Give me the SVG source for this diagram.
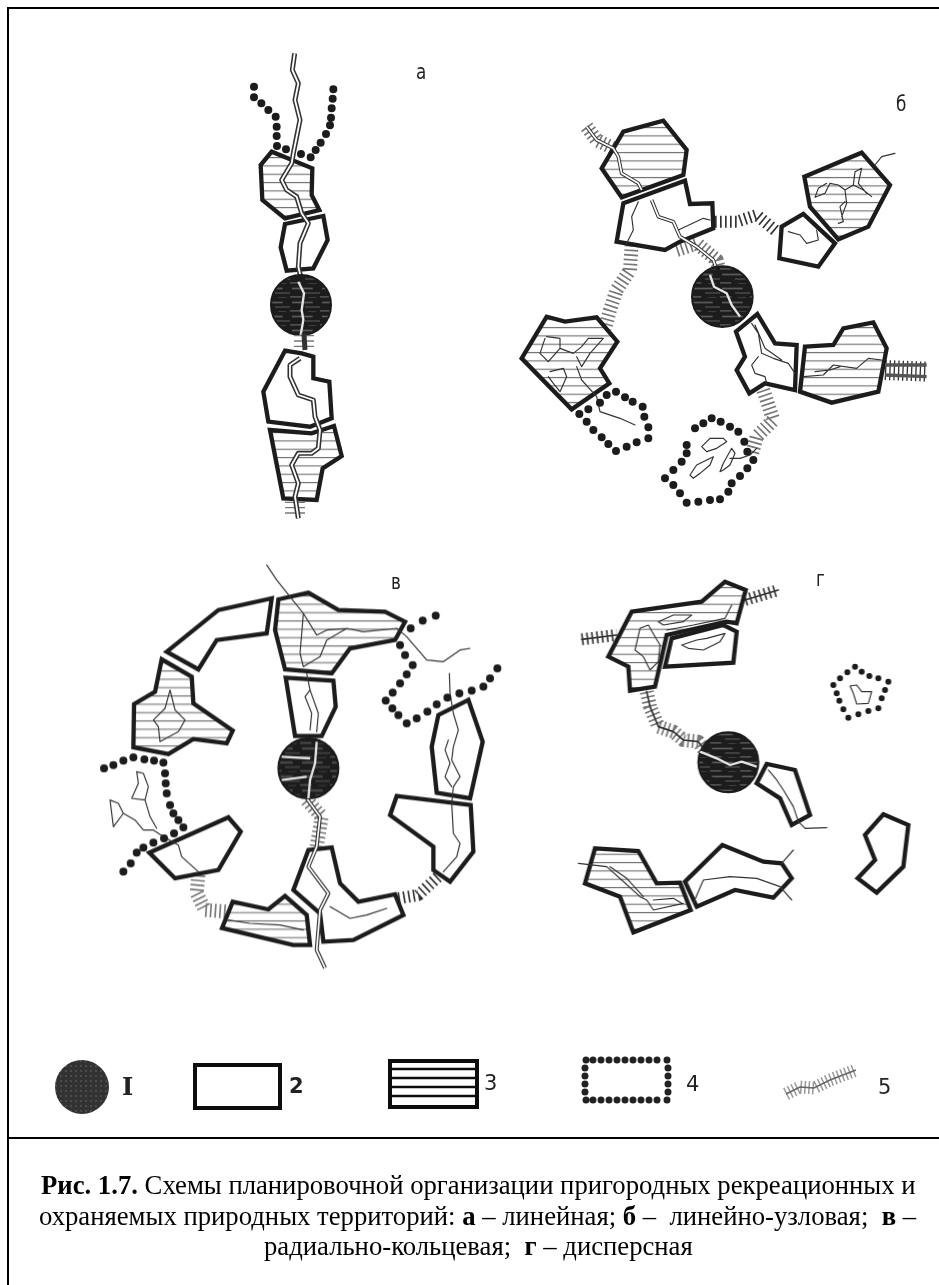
<svg xmlns="http://www.w3.org/2000/svg" width="939" height="1285" viewBox="0 0 939 1285">
<style>
.p{stroke:#1f1f1f;stroke-width:13;stroke-linejoin:miter;fill:#fff}
.h{fill:url(#hl)}
.r{fill:none;stroke:#333;stroke-width:3.5;stroke-linejoin:round;stroke-linecap:round}
.ro{fill:none;stroke:#333;stroke-width:15;stroke-linejoin:round}
.ri{fill:none;stroke:#fff;stroke-width:5.5;stroke-linejoin:round}
.ha{fill:none;stroke:#777;stroke-width:42;stroke-dasharray:5 9;stroke-linejoin:round}
.hb{fill:none;stroke:#333;stroke-width:36;stroke-dasharray:5 10;stroke-linejoin:round}
.d{fill:none;stroke:#1c1c1c;stroke-width:24;stroke-linecap:round}
.ds{fill:none;stroke:#1c1c1c;stroke-width:18;stroke-linecap:round}
.c{fill:url(#city);stroke:#1a1a1a;stroke-width:6}
.w{fill:none;stroke:#e4e4e4;stroke-width:7;stroke-linejoin:round}
.lab{font-family:"DejaVu Sans",sans-serif;font-size:21px;fill:#222}
.let{font-family:"DejaVu Sans",sans-serif;font-size:21px;fill:#222}
.cap{font-family:"Liberation Serif",serif;font-size:26.7px;fill:#000;white-space:pre}
.cap tspan{font-weight:bold}
.f{stroke:#000;stroke-width:2;fill:none}
</style>
<defs>
<pattern id="hl" width="30" height="25" patternUnits="userSpaceOnUse"><rect width="30" height="25" fill="#fff"/><rect y="11" width="30" height="3.5" fill="#777"/></pattern>
<pattern id="city" width="90" height="42" patternUnits="userSpaceOnUse"><rect width="90" height="42" fill="#1e1e1e"/><rect x="6" y="5" width="62" height="5" fill="#5a5a5a"/><rect x="45" y="19" width="45" height="4" fill="#4a4a4a"/><rect x="0" y="30" width="34" height="5" fill="#505050"/><rect x="55" y="33" width="24" height="3" fill="#3c3c3c"/></pattern>
<pattern id="leg" width="5" height="5" patternUnits="userSpaceOnUse"><rect width="5" height="5" fill="#333"/><rect width="2" height="2" fill="#4c4c4c"/></pattern>
<filter id="soft" x="-5%" y="-5%" width="110%" height="110%"><feGaussianBlur stdDeviation="0.45"/></filter>
</defs>
<rect width="939" height="1285" fill="#fff"/>
<path class="f" d="M8 1285V8H939M8 1138H939"/>

<g filter="url(#soft)">
<g id="panel-a">
 <g transform="translate(230 20) scale(.33333)">
  <path id="a-t1" class="p h" d="M125 395L92 435L97 540L165 595L268 570L245 525L247 445Z"/>
  <path id="a-t2" class="p" d="M165 612L152 682L170 752L250 745L293 660L280 588Z"/>
  <path class="d" d="M72 200h0M72 232h0M94 250h0M115 270h0M137 290h0M140 320h0M140 348h0M141 378h0M168 388h0M213 402h0M242 412h0M257 390h0M272 368h0M288 342h0M300 316h0M303 293h0M305 265h0M308 236h0M310 208h0"/>
  <path id="a-road1" class="ro" d="M194 100L187 150L205 190L195 240L210 300L190 400L185 430L155 480L170 510L200 530L215 580L235 610L210 670L205 740L212 770"/>
  <path class="ri" d="M194 100L187 150L205 190L195 240L210 300L190 400L185 430L155 480L170 510L200 530L215 580L235 610L210 670L205 740L212 770"/>
  <circle id="a-city" class="c" cx="213" cy="855" r="90"/>
  <path class="w" d="M205 785L222 820L215 870L220 900L212 945"/>
 </g>
 <g transform="translate(230 320) scale(.33333)">
  <path class="ha" style="stroke-width:60;stroke-dasharray:4 12" d="M222 45V90"/>
  <path class="ha" style="stroke-width:60;stroke-dasharray:4 12" d="M195 545V590"/>
  <path id="a-t3" class="p" d="M165 92L100 215L115 305L240 320L305 295L298 185L250 175L250 110L215 100Z"/>
  <path id="a-t4" class="p h" d="M120 330L160 535L260 540L278 445L335 408L312 318L245 340Z"/>
  <path class="ro" d="M222 40L225 90"/>
  <path class="ro" d="M210 115L180 135L180 170L205 225L250 240L255 290L270 330L265 385L245 400L205 400L185 435L205 490L195 530L205 595"/>
  <path class="ri" d="M210 115L180 135L180 170L205 225L250 240L255 290L270 330L265 385L245 400L205 400L185 435L205 490L195 530L205 595"/>
 </g>
</g>

<g id="panel-b" transform="translate(510 90) scale(.33333)">
 <path class="ha" d="M230 110L260 150L310 175"/>
 <path class="ha" d="M500 480L560 460L620 510L625 530"/>
 <path class="hb" d="M615 395L680 395L740 375L800 425"/>
 <path class="ha" d="M365 465L360 540L320 600L300 660L285 715"/>
 <path class="hb" style="stroke-width:60;stroke-dasharray:4 9" d="M1125 840L1250 845"/>
 <path class="ha" d="M760 900L790 990L740 1040L725 1095"/>
 <path id="b-t1" class="p h" d="M275 235L340 125L460 92L530 180L520 255L335 322Z"/>
 <path id="b-t2" class="p" d="M340 340L525 272L540 342L607 340L610 415L510 455L465 480L320 455Z"/>
 <path id="b-t3" class="p h" d="M883 260L1055 188L1140 285L1075 410L985 448L900 350Z"/>
 <path id="b-t4" class="p" d="M815 410L880 372L975 460L925 530L808 505Z"/>
 <path id="b-t5" class="p h" d="M35 805L110 680L165 695L260 682L322 755L270 835L298 880L185 958Z"/>
 <path id="b-t6" class="p" d="M678 725L742 672L795 760L860 765L855 900L765 880L718 910L680 840L705 800Z"/>
 <path id="b-t7" class="p h" d="M885 770L970 765L1000 715L1090 697L1130 775L1105 905L965 938L870 905Z"/>
 <path class="ro" style="stroke-width:11" d="M230 110L260 150L310 175L325 200L335 250L385 280L395 300"/>
 <path class="ri" style="stroke-width:5" d="M230 110L260 150L310 175L325 200L335 250L385 280L395 300"/>
 <path class="ro" style="stroke-width:11" d="M425 330L445 380L490 395L510 440L560 470L610 510L620 540"/>
 <path class="ri" style="stroke-width:5" d="M425 330L445 380L490 395L510 440L560 470L610 510L620 540"/>
 <path class="ro" style="stroke-width:10;stroke:#555" d="M1125 825H1250M1125 855L1250 860"/>
 <path class="r" d="M385 335L365 380L370 420L350 460M505 420L580 385L600 390M835 425L870 435L890 460L925 450L920 420M1155 190L1115 200L1095 225"/>
 <path class="r" d="M1055 235L1035 245L1030 285L1005 300L985 285L960 280L945 310L915 322L925 295L950 280M1030 285L1060 300L1085 320M1055 235L1045 280L1070 310M1005 335L990 350L1000 395L985 400M1005 300L1010 340L995 380"/>
 <path class="r" d="M725 700L745 730L755 790L790 805L835 820L855 850M735 705L765 775L815 810M745 800L725 825L735 850L765 860L770 880"/>
 <path class="r" d="M880 860L940 855L970 825L1040 835L1075 805L1115 810M915 845L960 840L990 830"/>
 <path class="r" d="M110 740L150 745L150 775L115 815L90 790L105 745M150 775L190 790L215 770L235 745L280 745L240 790L215 830L200 800M120 845L160 835L170 860L150 905L130 880L115 860M200 830L215 870L260 920L270 965L330 985L375 1005"/>
 <path class="d" d="M208 972h0M235 958h0M270 938h0M290 915h0M318 905h0M345 922h0M368 935h0M398 950h0M403 980h0M415 1012h0M415 1045h0M380 1057h0M350 1070h0M318 1083h0M295 1062h0M275 1042h0M250 1020h0M230 995h0"/>
 <path class="d" d="M465 1165h0M490 1140h0M515 1115h0M530 1090h0M530 1065h0M555 1015h0M580 1000h0M605 985h0M632 995h0M660 1010h0M685 1025h0M703 1055h0M712 1085h0M730 1110h0M712 1135h0M690 1158h0M665 1180h0M655 1205h0M630 1228h0M600 1230h0M565 1235h0M530 1238h0M510 1210h0M490 1185h0"/>
 <path class="r" d="M575 1070L600 1045L640 1045L650 1055L620 1075L590 1085ZM540 1155L560 1125L610 1100L600 1125L570 1150L550 1165ZM630 1145L640 1120L665 1075L675 1090L660 1125L640 1140ZM660 1105L690 1105L720 1095L740 1075"/>
 <circle id="b-city" class="c" cx="637" cy="620" r="91"/>
 <path class="w" d="M600 555L612 590L650 610L665 645L690 680"/>
</g>

<g id="panel-v" transform="translate(90 550) scale(.33333)">
 <path class="ha" d="M325 975L320 1030L345 1080L415 1085"/>
 <path class="ha" d="M650 750L695 800L680 890"/>
 <path class="hb" d="M925 1045L985 1035L1050 975"/>
 <path id="v-t1" class="p" d="M230 305L385 180L545 145L530 250L380 270L325 358Z"/>
 <path id="v-t2" class="p h" d="M565 148L655 128L745 180L885 185L945 215L915 270L780 295L725 370L585 358L555 240Z"/>
 <path id="v-t3" class="p" d="M587 383L730 392L737 470L695 558L615 558Z"/>
 <path id="v-t4" class="p h" d="M215 328L305 380L310 460L428 542L410 580L310 567L235 612L130 592L132 462L195 425Z"/>
 <path id="v-t5" class="p" d="M178 908L415 802L452 845L385 960L255 985Z"/>
 <path id="v-t6" class="p h" d="M428 1055L535 1078L585 1038L650 1095L660 1185L609 1185L396 1134Z"/>
 <path id="v-t7" class="p" d="M655 900L725 892L750 1000L805 1055L915 1033L940 1095L790 1170L700 1175L690 1090L610 1020Z"/>
 <path id="v-t8" class="p" d="M920 738L1142 765L1150 905L1080 995L1030 960L1030 890L900 795Z"/>
 <path id="v-t9" class="p" d="M1045 495L1135 450L1178 575L1140 745L1040 728L1025 590Z"/>
 <path class="r" d="M530 45L560 90L600 140L640 190L630 310L640 350L690 320L710 270L770 235L820 245L920 235L950 260L1010 330L1060 335L1110 300L1140 295M640 190L680 255L710 240L770 235"/>
 <path class="r" d="M650 370L660 420L645 440L665 490L660 540M660 420L685 490L680 545"/>
 <path class="r" d="M240 420L255 480L285 510L265 545L210 575L205 530L190 510L225 475Z"/>
 <path class="r" d="M1078 370L1080 430L1090 490L1105 540L1090 590L1085 630L1110 680L1090 710L1085 760L1090 850L1110 880L1100 920L1060 965M1075 570L1065 600L1080 640L1065 680L1085 710"/>
 <path class="r" d="M140 665L160 670L175 710L165 750L125 745L145 700ZM60 750L85 760L100 790L70 830L65 790ZM100 790L135 810L160 840L190 840L220 860L265 885L275 920L325 965M165 750L180 800L200 835"/>
 <path class="r" d="M415 1110L480 1120L570 1125L640 1140M720 1070L780 1105L830 1095L890 1075"/>
 <path class="d" d="M42 655h0M70 645h0M100 632h0M130 622h0M163 628h0M192 632h0M220 638h0M225 670h0M227 700h0M230 730h0M240 765h0M250 790h0M265 810h0M280 832h0M252 850h0M222 865h0M190 878h0M160 893h0M140 908h0M122 940h0M100 965h0"/>
 <path class="d" d="M1037 197h0M998 212h0M962 235h0M930 285h0M945 315h0M968 345h0M950 373h0M930 400h0M908 428h0M887 452h0M907 475h0M925 495h0M950 520h0M980 505h0M1012 485h0M1040 463h0M1072 443h0M1108 430h0M1145 422h0M1180 410h0M1200 385h0M1222 355h0"/>
 <path class="ro" style="stroke-width:12" d="M650 745L690 800L680 890L655 950L715 1030L690 1080L680 1200L705 1254"/>
 <path class="ri" style="stroke-width:5" d="M650 745L690 800L680 890L655 950L715 1030L690 1080L680 1200L705 1254"/>
 <circle id="v-city" class="c" cx="655" cy="655" r="90"/>
 <path class="w" d="M680 575L675 640L660 690L655 745M575 620L660 625M575 690L650 680"/>
</g>

<g id="panel-g" transform="translate(560 550) scale(.33333)">
 <path class="hb" d="M65 268L170 255"/>
 <path class="hb" d="M555 150L655 120"/>
 <path class="r" style="stroke-width:5" d="M65 268L170 255M555 150L655 120"/>
 <path class="ha" d="M260 425L270 470L295 530L340 545L370 570L415 575L440 610"/>
 <path id="g-t1" class="p h" d="M215 185L425 155L495 95L557 120L530 220L500 215L320 255L285 410L210 422L205 350L145 320Z"/>
 <path id="g-t2" class="p" d="M335 265L490 225L530 245L520 338L315 350Z"/>
 <path class="r" style="stroke-width:5" d="M260 425L270 470L295 530L340 545L370 570L415 575L440 610"/>
 <path class="r" d="M295 215L340 195L395 195L370 215L310 225ZM365 285L410 270L440 265L495 250L480 275L430 300L385 295ZM240 235L265 225L285 260L300 285L295 335L270 360L250 320L225 300ZM320 240L400 225L495 205L515 165"/>
 <circle id="g-city" class="c" cx="505" cy="637" r="90"/>
 <path class="w" d="M420 605L470 625L510 645L545 635L590 650"/>
 <path id="g-t3" class="p" d="M590 700L620 642L705 660L750 795L695 825L660 745Z"/>
 <path class="r" d="M625 660L650 690L670 720L700 770L715 815L735 835L800 833"/>
 <path class="ds" d="M885 350h0M905 365h0M928 378h0M955 385h0M985 395h0M975 420h0M965 445h0M955 475h0M925 483h0M895 493h0M865 503h0M850 478h0M838 452h0M830 430h0M820 405h0M840 385h0M862 367h0"/>
 <path class="r" d="M870 408L890 405L905 425L935 425L925 460L890 462L880 430Z"/>
 <path id="g-t4" class="p" d="M970 793L1045 825L1030 950L950 1028L893 985L945 930L915 855Z"/>
 <path id="g-t5" class="p h" d="M105 895L235 903L290 1000L360 998L392 1080L220 1147L180 1040L75 1000Z"/>
 <path id="g-t6" class="p" d="M375 995L487 885L610 935L665 940L695 985L640 1043L525 1020L410 1070Z"/>
 <path class="r" d="M55 940L140 950L185 990L240 1040L260 1050L280 1080L370 1060M150 950L200 985L250 1040M280 1050L340 1045L365 1060M400 1060L430 990L510 980L590 985L660 1010L695 1050M665 940L700 900"/>
</g>

<g id="legend">
 <circle cx="82" cy="1087" r="27" fill="url(#leg)"/>
 <rect x="195" y="1065" width="85" height="43" fill="#fff" stroke="#111" stroke-width="4"/>
 <rect x="390" y="1061" width="87" height="46" fill="#fff" stroke="#111" stroke-width="4"/>
 <path stroke="#111" stroke-width="2.5" d="M390 1069H477M390 1078H477M390 1087H477M390 1096H477"/>
 <path fill="none" stroke="#222" stroke-width="7" stroke-linecap="round" d="M586 1060h0M593 1060h0M601 1060h0M609 1060h0M617 1060h0M625 1060h0M633 1060h0M641 1060h0M649 1060h0M657 1060h0M667 1060h0M586 1100h0M593 1100h0M601 1100h0M609 1100h0M617 1100h0M625 1100h0M633 1100h0M641 1100h0M649 1100h0M657 1100h0M667 1100h0M585 1068h0M585 1076h0M585 1084h0M585 1092h0M668 1068h0M668 1076h0M668 1084h0M668 1092h0"/>
 <path fill="none" stroke="#999" stroke-width="13" stroke-dasharray="1.5 2.5" d="M786 1094L800 1087L814 1088L830 1080L856 1070"/>
 <path fill="none" stroke="#666" stroke-width="1.5" d="M786 1094L800 1087L814 1088L830 1080L856 1070"/>
</g>
</g>

<g id="labels">
 <text class="let" transform="translate(416 79) scale(.8 1)">а</text>
 <text class="let" transform="translate(896 111) scale(.8 1)">б</text>
 <text class="let" transform="translate(391 589) scale(.8 1)">в</text>
 <text class="let" transform="translate(816 586) scale(.8 1)">г</text>
 <text class="lab" style="font-family:'DejaVu Serif',serif;font-weight:bold;font-size:24px" x="122" y="1095">I</text>
 <text class="lab" style="font-weight:bold" x="289" y="1093">2</text>
 <text class="lab" x="484" y="1090">3</text>
 <text class="lab" x="686" y="1091">4</text>
 <text class="lab" x="878" y="1094">5</text>
</g>

<g id="caption">
 <text class="cap" x="41" y="1194"><tspan>Рис. 1.7.</tspan> Схемы планировочной организации пригородных рекреационных и</text>
 <text class="cap" x="39" y="1225">охраняемых природных территорий: <tspan>а</tspan> – линейная; <tspan>б</tspan> –  линейно-узловая;  <tspan>в</tspan> –</text>
 <text class="cap" x="264" y="1255">радиально-кольцевая;  <tspan>г</tspan> – дисперсная</text>
</g>
</svg>
